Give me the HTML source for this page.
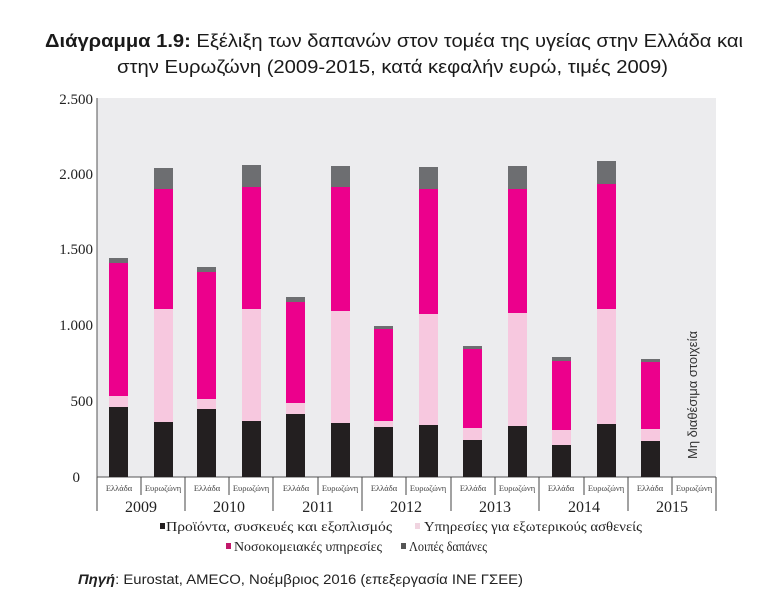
<!DOCTYPE html>
<html><head><meta charset="utf-8"><style>
html,body{margin:0;padding:0;background:#fff;}
svg{display:block;}
</style></head><body>
<svg width="768" height="604" viewBox="0 0 768 604" xmlns="http://www.w3.org/2000/svg">
<g font-family="Liberation Sans, sans-serif" fill="#1a1a1a">
<text x="45" y="47" font-size="18" textLength="698" lengthAdjust="spacingAndGlyphs"><tspan font-weight="bold">Διάγραμμα 1.9:</tspan> Εξέλιξη των δαπανών στον τομέα της υγείας στην Ελλάδα και</text>
<text x="117" y="73" font-size="18" textLength="551" lengthAdjust="spacingAndGlyphs">στην Ευρωζώνη (2009-2015, κατά κεφαλήν ευρώ, τιμές 2009)</text>
</g>
<rect x="97" y="98" width="619" height="379" fill="#ececee"/>
<line x1="97" y1="98" x2="97" y2="477" stroke="#555" stroke-width="1"/>
<line x1="97" y1="477" x2="716" y2="477" stroke="#555" stroke-width="1"/>
<g font-family="Liberation Serif, serif" font-size="15" fill="#222" text-anchor="end">
<text x="93" y="104">2.500</text><text x="93" y="179">2.000</text><text x="93" y="254">1.500</text><text x="93" y="330">1.000</text><text x="93" y="406">500</text><text x="80" y="482">0</text>
</g>
<g id="bars">
<rect x="109" y="407" width="19" height="70" fill="#231f20"/><rect x="109" y="396" width="19" height="11" fill="#f7c8df"/><rect x="109" y="263" width="19" height="133" fill="#ec008c"/><rect x="109" y="258" width="19" height="5" fill="#6d6e71"/>
<rect x="154" y="422" width="19" height="55" fill="#231f20"/><rect x="154" y="309" width="19" height="113" fill="#f7c8df"/><rect x="154" y="189" width="19" height="120" fill="#ec008c"/><rect x="154" y="168" width="19" height="21" fill="#6d6e71"/>
<rect x="197" y="409" width="19" height="68" fill="#231f20"/><rect x="197" y="399" width="19" height="10" fill="#f7c8df"/><rect x="197" y="272" width="19" height="127" fill="#ec008c"/><rect x="197" y="267" width="19" height="5" fill="#6d6e71"/>
<rect x="242" y="421" width="19" height="56" fill="#231f20"/><rect x="242" y="309" width="19" height="112" fill="#f7c8df"/><rect x="242" y="187" width="19" height="122" fill="#ec008c"/><rect x="242" y="165" width="19" height="22" fill="#6d6e71"/>
<rect x="286" y="414" width="19" height="63" fill="#231f20"/><rect x="286" y="403" width="19" height="11" fill="#f7c8df"/><rect x="286" y="302" width="19" height="101" fill="#ec008c"/><rect x="286" y="297" width="19" height="5" fill="#6d6e71"/>
<rect x="331" y="423" width="19" height="54" fill="#231f20"/><rect x="331" y="311" width="19" height="112" fill="#f7c8df"/><rect x="331" y="187" width="19" height="124" fill="#ec008c"/><rect x="331" y="166" width="19" height="21" fill="#6d6e71"/>
<rect x="374" y="427" width="19" height="50" fill="#231f20"/><rect x="374" y="421" width="19" height="6" fill="#f7c8df"/><rect x="374" y="329" width="19" height="92" fill="#ec008c"/><rect x="374" y="326" width="19" height="3" fill="#6d6e71"/>
<rect x="419" y="425" width="19" height="52" fill="#231f20"/><rect x="419" y="314" width="19" height="111" fill="#f7c8df"/><rect x="419" y="189" width="19" height="125" fill="#ec008c"/><rect x="419" y="167" width="19" height="22" fill="#6d6e71"/>
<rect x="463" y="440" width="19" height="37" fill="#231f20"/><rect x="463" y="428" width="19" height="12" fill="#f7c8df"/><rect x="463" y="349" width="19" height="79" fill="#ec008c"/><rect x="463" y="346" width="19" height="3" fill="#6d6e71"/>
<rect x="508" y="426" width="19" height="51" fill="#231f20"/><rect x="508" y="313" width="19" height="113" fill="#f7c8df"/><rect x="508" y="189" width="19" height="124" fill="#ec008c"/><rect x="508" y="166" width="19" height="23" fill="#6d6e71"/>
<rect x="552" y="445" width="19" height="32" fill="#231f20"/><rect x="552" y="430" width="19" height="15" fill="#f7c8df"/><rect x="552" y="361" width="19" height="69" fill="#ec008c"/><rect x="552" y="357" width="19" height="4" fill="#6d6e71"/>
<rect x="597" y="424" width="19" height="53" fill="#231f20"/><rect x="597" y="309" width="19" height="115" fill="#f7c8df"/><rect x="597" y="184" width="19" height="125" fill="#ec008c"/><rect x="597" y="161" width="19" height="23" fill="#6d6e71"/>
<rect x="641" y="441" width="19" height="36" fill="#231f20"/><rect x="641" y="429" width="19" height="12" fill="#f7c8df"/><rect x="641" y="362" width="19" height="67" fill="#ec008c"/><rect x="641" y="359" width="19" height="3" fill="#6d6e71"/>
</g>
<text transform="translate(697,395) rotate(-90)" text-anchor="middle" font-family="Liberation Sans, sans-serif" font-size="13" fill="#333">Μη διαθέσιμα στοιχεία</text>
<g stroke="#444" stroke-width="1">
<line x1="97" y1="477" x2="97" y2="511"/><line x1="185" y1="477" x2="185" y2="511"/><line x1="273" y1="477" x2="273" y2="511"/><line x1="362" y1="477" x2="362" y2="511"/><line x1="451" y1="477" x2="451" y2="511"/><line x1="539" y1="477" x2="539" y2="511"/><line x1="628" y1="477" x2="628" y2="511"/><line x1="716" y1="477" x2="716" y2="511"/>
<line x1="141" y1="477" x2="141" y2="495"/><line x1="229" y1="477" x2="229" y2="495"/><line x1="318" y1="477" x2="318" y2="495"/><line x1="406" y1="477" x2="406" y2="495"/><line x1="495" y1="477" x2="495" y2="495"/><line x1="584" y1="477" x2="584" y2="495"/><line x1="672" y1="477" x2="672" y2="495"/>
</g>
<g font-family="Liberation Serif, serif" font-size="8.5" fill="#444" text-anchor="middle">
<text x="119" y="491">Ελλάδα</text><text x="163" y="491">Ευρωζώνη</text>
<text x="207" y="491">Ελλάδα</text><text x="251" y="491">Ευρωζώνη</text>
<text x="296" y="491">Ελλάδα</text><text x="340" y="491">Ευρωζώνη</text>
<text x="384" y="491">Ελλάδα</text><text x="428" y="491">Ευρωζώνη</text>
<text x="473" y="491">Ελλάδα</text><text x="517" y="491">Ευρωζώνη</text>
<text x="561" y="491">Ελλάδα</text><text x="606" y="491">Ευρωζώνη</text>
<text x="650" y="491">Ελλάδα</text><text x="694" y="491">Ευρωζώνη</text>
</g>
<g font-family="Liberation Serif, serif" font-size="16" fill="#222" text-anchor="middle">
<text x="141" y="512">2009</text><text x="229" y="512">2010</text><text x="318" y="512">2011</text><text x="406" y="512">2012</text><text x="495" y="512">2013</text><text x="584" y="512">2014</text><text x="672" y="512">2015</text>
</g>
<g font-family="Liberation Serif, serif" font-size="13.5" fill="#222">
<rect x="160" y="523" width="5" height="6" fill="#231f20"/>
<text x="166" y="531" textLength="226" lengthAdjust="spacingAndGlyphs">Προϊόντα, συσκευές και εξοπλισμός</text>
<rect x="415" y="523" width="5" height="6" fill="#f0d4e0"/>
<text x="424" y="531" textLength="218" lengthAdjust="spacingAndGlyphs">Υπηρεσίες για εξωτερικούς ασθενείς</text>
<rect x="226" y="543" width="5" height="6" fill="#c2186b"/>
<text x="234" y="551" textLength="148" lengthAdjust="spacingAndGlyphs">Νοσοκομειακές υπηρεσίες</text>
<rect x="401" y="543" width="5" height="6" fill="#555"/>
<text x="409" y="551" textLength="78" lengthAdjust="spacingAndGlyphs">Λοιπές δαπάνες</text>
</g>
<text x="78" y="584" font-family="Liberation Sans, sans-serif" font-size="13.5" fill="#222" textLength="445" lengthAdjust="spacingAndGlyphs"><tspan font-weight="bold" font-style="italic">Πηγή</tspan>: Eurostat, AMECO, Νοέμβριος 2016  (επεξεργασία ΙΝΕ ΓΣΕΕ)</text>
</svg>
</body></html>
